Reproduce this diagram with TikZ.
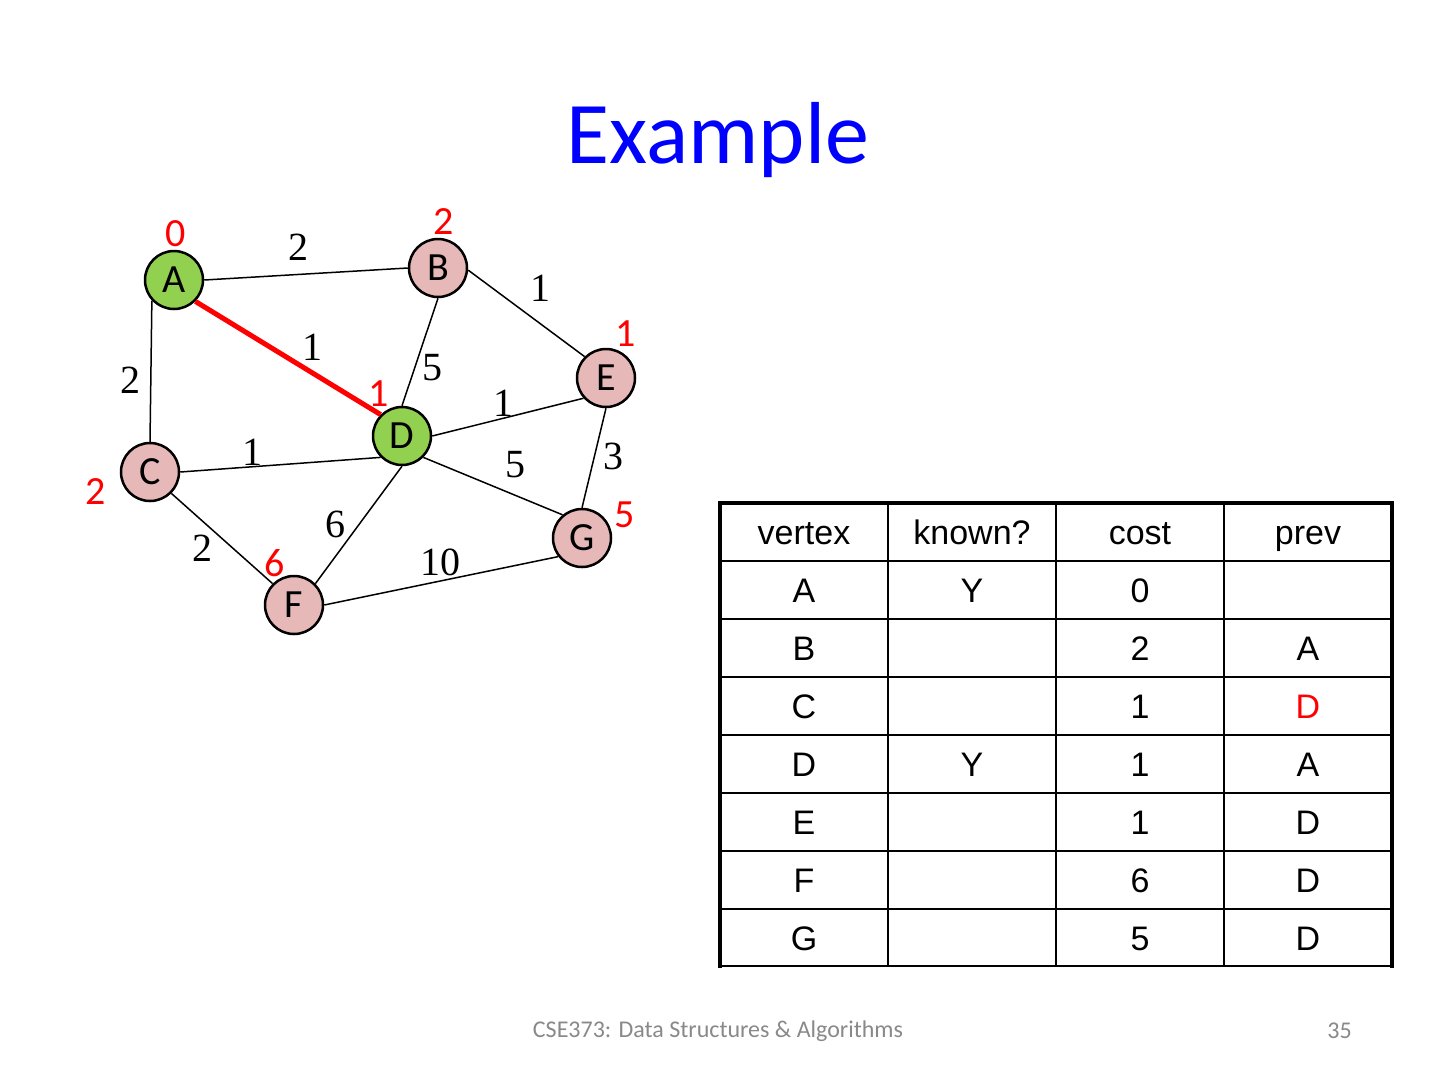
\documentclass[tikz,border=0pt]{standalone}
\usepackage{fontspec}
\setmainfont{Carlito}
\newfontfamily\serifnum{Liberation Serif}
\newfontfamily\arialfont{Liberation Sans}
\definecolor{kgreen}{HTML}{92D050}
\definecolor{upink}{HTML}{E6B9B8}
\definecolor{titleblue}{HTML}{0000FF}
\definecolor{footgray}{HTML}{898989}
\begin{document}
\begin{tikzpicture}[x=1pt,y=-1pt,
  vert/.style={circle, draw=black, line width=2.5pt, minimum size=58pt, inner sep=0pt, font=\fontsize{40}{40}\selectfont},
  known/.style={vert, fill=kgreen},
  unknown/.style={vert, fill=upink},
  edge/.style={line width=1.5pt},
  redge/.style={line width=5pt, red},
  wt/.style={font=\serifnum\fontsize{40}{40}\selectfont, inner sep=0pt},
  cost/.style={text=red, font=\fontsize{40}{40}\selectfont, inner sep=0pt},
  cell/.style={font=\arialfont\fontsize{34}{34}\selectfont, inner sep=0pt, anchor=center, text height=25pt, text depth=0pt},
  thin/.style={line width=2pt},
  thick/.style={line width=4pt}
]
\useasboundingbox (0,0) rectangle (1440,1080);
\fill[white] (0,0) rectangle (1440,1080);

% title
\node[text=titleblue, font=\fontsize{88}{88}\selectfont, inner sep=0pt] (title) at (718,140) {Example};

% vertices
\node[known]   (A) at (174,280) {A};
\node[unknown] (B) at (438,268) {B};
\node[unknown] (E) at (606,378) {E};
\node[known]   (D) at (402,436) {D};
\node[unknown] (C) at (150,472) {C};
\node[unknown] (F) at (294,605) {F};
\node[unknown] (G) at (582,538) {G};

% edges
\draw[edge] (A.east) -- (B.west);
\draw[edge] (A.223) -- (C.north);
\draw[edge] (B.-4) -- (E.135);
\draw[edge] (B.south) -- (D.north);
\draw[edge] (D.east) -- (E.222);
\draw[edge] (E.south) -- (G.north);
\draw[edge] (D.south east) -- (G.130);
\draw[edge] (D.south) -- (F.north east);
\draw[edge] (D.south west) -- (C.east);
\draw[edge] (C.south east) -- (F.north west);
\draw[edge] (F.east) -- (G.218);
\draw[redge] (A.-45) -- (D.135);

% weights
\node[wt] (wAB) at (298,247) {2};
\node[wt] (wBE) at (540,288) {1};
\node[wt] (wAD) at (312,347) {1};
\node[wt] (wBD) at (432,368) {5};
\node[wt] (wAC) at (130,380) {2};
\node[wt] (wDE) at (503,403) {1};
\node[wt] (wCD) at (252,452) {1};
\node[wt] (wEG) at (613,456) {3};
\node[wt] (wDG) at (515,465) {5};
\node[wt] (wDF) at (335,524) {6};
\node[wt] (wCF) at (202,548) {2};
\node[wt] (wFG) at (440,562) {10};

% costs
\node[cost] (cA) at (176,234) {0};
\node[cost] (cB) at (444,222) {2};
\node[cost] (cE) at (626,334) {1};
\node[cost] (cD) at (379,394) {1};
\node[cost] (cC) at (96,492) {2};
\node[cost] (cG) at (625,515) {5};
\node[cost] (cF) at (275,563) {6};

% table
\foreach \y in {561,619,677,735,793,851,909} \draw[thin] (720,\y) -- (1392,\y);
\foreach \x in {888,1056,1224} \draw[thin] (\x,503) -- (\x,966);
\draw[thin] (720,966) -- (1392,966);
\draw[thick] (720,968) -- (720,503) -- (1392,503) -- (1392,968);

\node[cell] (h1) at (804,532) {vertex};
\node[cell] (h2) at (972,532) {known?};
\node[cell] (h3) at (1140,532) {cost};
\node[cell] (h4) at (1308,532) {prev};

\node[cell] (rA1) at (804,590) {A};
\node[cell] (rA2) at (972,590) {Y};
\node[cell] (rA3) at (1140,590) {0};

\node[cell] (rB1) at (804,648) {B};
\node[cell] (rB3) at (1140,648) {2};
\node[cell] (rB4) at (1308,648) {A};

\node[cell] (rC1) at (804,706) {C};
\node[cell] (rC3) at (1140,706) {1};
\node[cell, text=red] (rC4) at (1308,706) {D};

\node[cell] (rD1) at (804,764) {D};
\node[cell] (rD2) at (972,764) {Y};
\node[cell] (rD3) at (1140,764) {1};
\node[cell] (rD4) at (1308,764) {A};

\node[cell] (rE1) at (804,822) {E};
\node[cell] (rE3) at (1140,822) {1};
\node[cell] (rE4) at (1308,822) {D};

\node[cell] (rF1) at (804,880) {F};
\node[cell] (rF3) at (1140,880) {6};
\node[cell] (rF4) at (1308,880) {D};

\node[cell] (rG1) at (804,938) {G};
\node[cell] (rG3) at (1140,938) {5};
\node[cell] (rG4) at (1308,938) {D};

% footer
\node[text=footgray, font=\fontsize{24}{24}\selectfont, inner sep=0pt] (foot) at (718,1031) {CSE373: Data Structures \& Algorithms};
\node[text=footgray, font=\fontsize{24}{24}\selectfont, inner sep=0pt, anchor=east] (page) at (1352,1031) {35};
\end{tikzpicture}
\end{document}
